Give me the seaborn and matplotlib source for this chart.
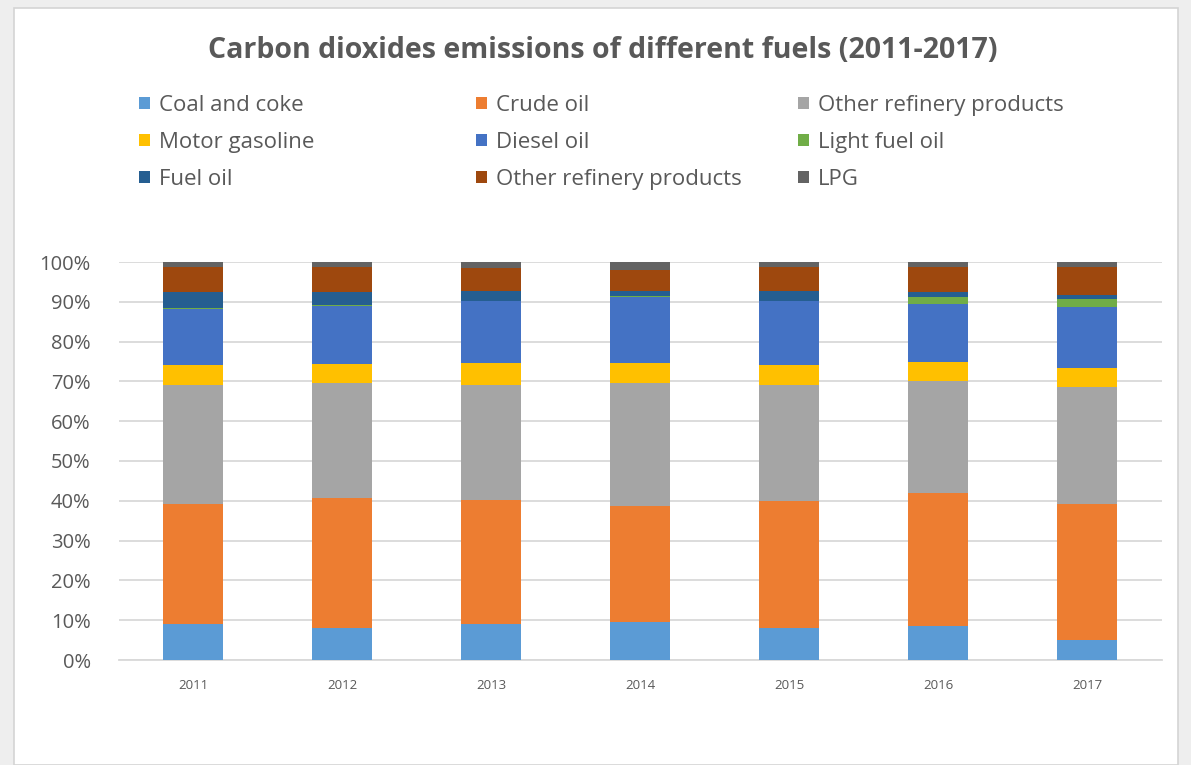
import matplotlib
matplotlib.use("Agg")
import matplotlib.pyplot as plt
import seaborn as sns
import numpy as np
from matplotlib.patches import Patch, Rectangle
from matplotlib.ticker import PercentFormatter, MultipleLocator

years = ["2011", "2012", "2013", "2014", "2015", "2016", "2017"]
fuels = ["Coal and coke", "Crude oil", "Other refinery products",
         "Motor gasoline", "Diesel oil", "Light fuel oil",
         "Fuel oil", "Other refinery products", "LPG"]
coal = [9.1, 8.0, 9.1, 9.5, 8.0, 8.5, 5.0]
crude = [30.2, 32.8, 31.2, 29.2, 31.9, 33.5, 34.3]
other_ref_a = [29.7, 28.8, 28.7, 30.9, 29.1, 28.1, 29.2]
motor = [5.1, 4.8, 5.5, 4.9, 5.0, 4.9, 4.8]
diesel = [14.2, 14.6, 15.6, 16.7, 16.1, 14.5, 15.5]
light = [0.2, 0.2, 0.2, 0.2, 0.2, 1.8, 2.0]
fuel_oil = [3.9, 3.2, 2.4, 1.3, 2.4, 1.1, 1.0]
other_ref_b = [6.3, 6.3, 5.9, 5.2, 6.0, 6.3, 6.9]
lpg = [1.3, 1.3, 1.4, 2.1, 1.3, 1.3, 1.3]
colors = ["#5B9BD5", "#ED7D31", "#A5A5A5", "#FFC000", "#4472C4",
          "#70AD47", "#255E91", "#9E480E", "#636363"]

series = [coal, crude, other_ref_a, motor, diesel, light, fuel_oil, other_ref_b, lpg]

sns.set_theme(style="white")
FONT = ["Open Sans", "DejaVu Sans"]
plt.rcParams["font.family"] = FONT
TXT = "#595959"

W, H = 1191, 765
fig = plt.figure(figsize=(W / 100, H / 100), dpi=100)
fig.patch.set_facecolor("#eeeeee")
fig.patches.append(Rectangle((14 / W, 0), (1178 - 14) / W, 1 - 8 / H,
                             transform=fig.transFigure, facecolor="white",
                             edgecolor="#d4d4d4", linewidth=1.2, zorder=-5))

ax = fig.add_axes([118.5 / W, 1 - 660 / H, (1161.5 - 118.5) / W, (660 - 262) / H])
ax.set_facecolor("none")
ax.set_zorder(2)

arr = np.array(series, dtype=float)
shares = arr / arr.sum(axis=0) * 100
cum = np.zeros(len(years))
for vals, c in zip(shares, colors):
    sns.barplot(x=years, y=vals, bottom=cum, color=c, saturation=1, width=0.4,
                linewidth=0, ax=ax, zorder=3)
    cum = cum + vals

ax.set_xlim(-0.5, 6.5)
ax.set_ylim(0, 100)
ax.yaxis.set_major_locator(MultipleLocator(10))
ax.yaxis.set_major_formatter(PercentFormatter(decimals=0))
ax.grid(axis="y", color="#d9d9d9", linewidth=1.3, zorder=0)
ax.grid(axis="x", visible=False)
ax.set_axisbelow(True)
for s in ["top", "right", "left"]:
    ax.spines[s].set_visible(False)
ax.spines["bottom"].set_color("#d9d9d9")
ax.spines["bottom"].set_linewidth(1.3)
ax.tick_params(axis="y", length=0, pad=20, labelsize=14.5, labelcolor=TXT)
ax.tick_params(axis="x", length=0, pad=14, labelsize=9.5, labelcolor=TXT)
ax.set_xlabel("")
ax.set_ylabel("")

fig.text(603 / W, 1 - 51 / H, "Carbon dioxides emissions of different fuels (2011-2017)",
         ha="center", va="center", fontsize=20.5, fontweight="bold", color=TXT)

handles = [Patch(facecolor=c, edgecolor="none") for c in colors]
col_x = [139, 476, 798]
for ci in range(3):
    idx = [ci, ci + 3, ci + 6]
    leg = fig.legend([handles[i] for i in idx], [fuels[i] for i in idx],
                     loc="upper left", bbox_to_anchor=(col_x[ci] / W, 1 - 95 / H),
                     bbox_transform=fig.transFigure, frameon=False, ncol=1,
                     fontsize=16, handlelength=0.5, handleheight=0.5,
                     handletextpad=0.4, labelspacing=0.72, borderpad=0,
                     borderaxespad=0, labelcolor=TXT)

fig.savefig("out.png", dpi=100, facecolor=fig.get_facecolor())
